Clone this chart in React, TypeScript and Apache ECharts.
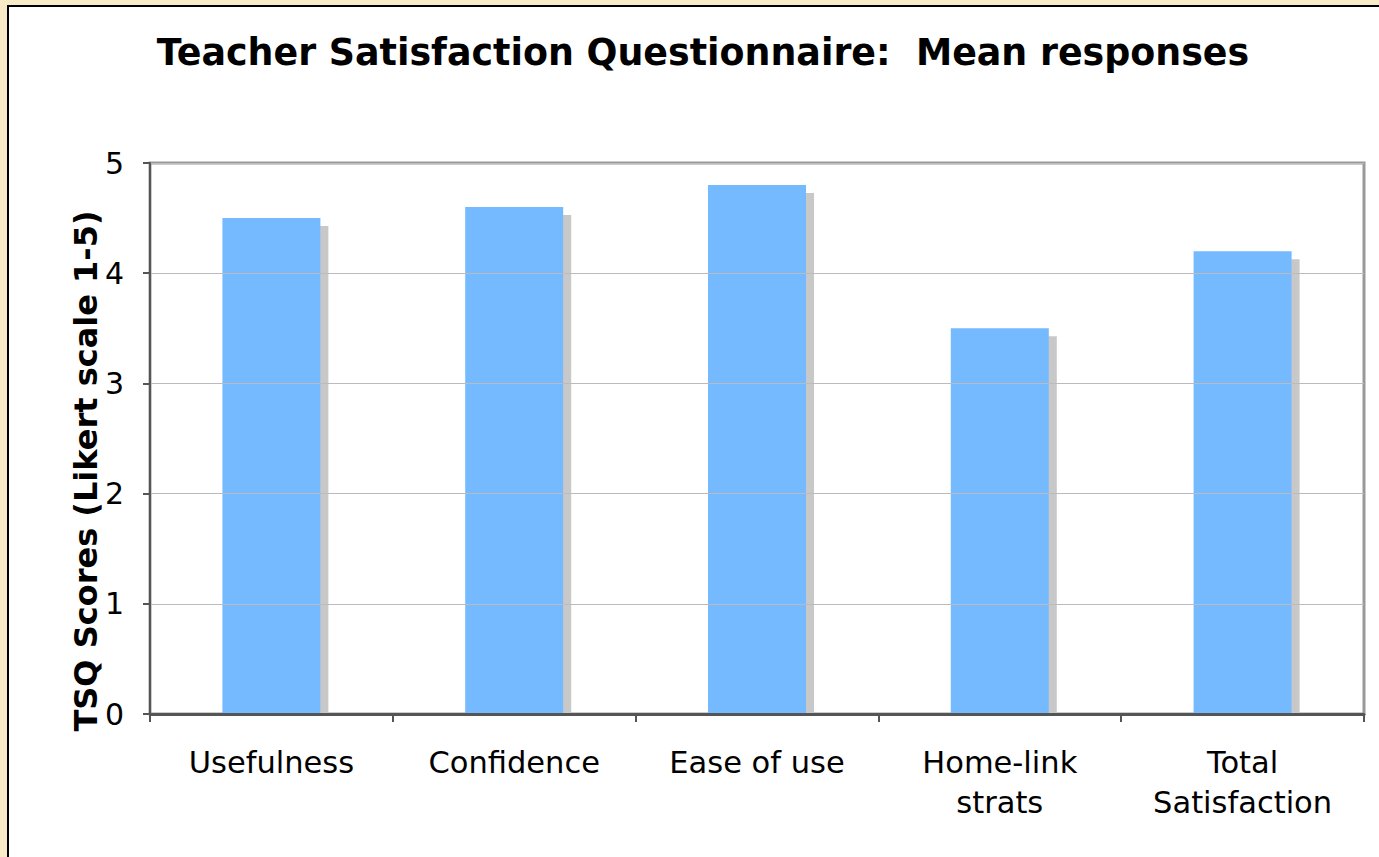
import React, { useEffect, useRef } from "react";
import * as echarts from "echarts";

const categories = ["Usefulness", "Confidence", "Ease of use", "Home-link\nstrats", "Total\nSatisfaction"];
const meanScores = [4.5, 4.6, 4.8, 3.5, 4.2];
const yTicks = [0, 1, 2, 3, 4, 5];
const titleText = "Teacher Satisfaction Questionnaire:  Mean responses";
const yAxisTitle = "TSQ Scores (Likert scale 1-5)";

export default function App() {
  const ref = useRef<HTMLDivElement>(null);
  useEffect(() => {
    if (!ref.current) return;
    const chart = echarts.init(ref.current, null, { renderer: "svg" });
    chart.setOption({
      animation: false,
      backgroundColor: "#FAEBC8",
      textStyle: { fontFamily: "DejaVu Sans" },
      graphic: [
        {
          type: "rect",
          z: -10,
          shape: { x: 8, y: 6, width: 1400, height: 900 },
          style: { fill: "#ffffff", stroke: "#000000", lineWidth: 2 },
        },
        {
          type: "rect",
          z: 5,
          shape: { x: 140, y: 715, width: 1235, height: 22 },
          style: { fill: "#ffffff" },
        },
        {
          type: "text",
          x: 703,
          y: 52,
          style: {
            text: titleText,
            font: "bold 36.4px 'DejaVu Sans'",
            fill: "#000",
            align: "center",
            verticalAlign: "middle",
          },
        },
        {
          type: "text",
          x: 86,
          y: 471,
          rotation: Math.PI / 2,
          style: {
            text: yAxisTitle,
            font: "bold 32px 'DejaVu Sans'",
            fill: "#000",
            align: "center",
            verticalAlign: "middle",
          },
        },
      ],
      grid: {
        left: 150,
        top: 163,
        right: 15,
        bottom: 143,
        show: true,
        borderColor: "#999999",
        borderWidth: 3,
        backgroundColor: "transparent",
      },
      xAxis: {
        type: "category",
        data: categories,
        boundaryGap: true,
        z: 10,
        axisLine: { lineStyle: { color: "#555555", width: 3 } },
        axisTick: { show: true, length: 8, alignWithLabel: false, lineStyle: { color: "#555555", width: 2 } },
        axisLabel: {
          interval: 0,
          color: "#000",
          fontSize: 30.5,
          lineHeight: 40,
          margin: 28,
          fontFamily: "DejaVu Sans",
        },
      },
      yAxis: {
        type: "value",
        min: yTicks[0],
        max: yTicks[yTicks.length - 1],
        interval: 1,
        z: 10,
        axisLine: { show: true, lineStyle: { color: "#555555", width: 2 } },
        axisTick: { show: true, length: 7, lineStyle: { color: "#555555", width: 2 } },
        axisLabel: { color: "#000", fontSize: 30, margin: 26, fontFamily: "DejaVu Sans" },
        splitLine: { show: true, lineStyle: { color: "#BBBBBB", width: 1 } },
      },
      series: [
        {
          type: "bar",
          data: meanScores,
          barWidth: 98,
          itemStyle: {
            color: "#75B9FF",
            shadowColor: "#C8C8C8",
            shadowBlur: 0,
            shadowOffsetX: 8,
            shadowOffsetY: 8,
          },
        },
      ],
    });
    return () => chart.dispose();
  }, []);
  return (
    <div
      ref={ref}
      style={{ position: "fixed", left: 0, top: 0, width: 1379, height: 857 }}
    />
  );
}
